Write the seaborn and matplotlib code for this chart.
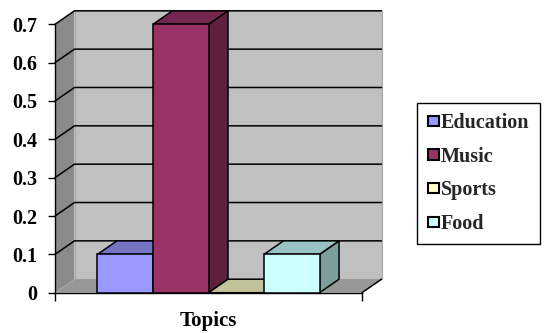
import matplotlib
matplotlib.use("Agg")
import numpy as np
import pandas as pd
import seaborn as sns
import matplotlib.pyplot as plt
from matplotlib.patches import Polygon, Patch
import matplotlib.colors as mcolors

# ---- data ----
category = "Topics"
topics = ["Education", "Music", "Sports", "Food"]
values = [0.1, 0.7, 0.0, 0.1]
colors = ["#9999FF", "#993366", "#FFFFCC", "#CCFFFF"]
y_ticks = [0, 0.1, 0.2, 0.3, 0.4, 0.5, 0.6, 0.7]
y_tick_labels = ["0", "0.1", "0.2", "0.3", "0.4", "0.5", "0.6", "0.7"]

sns.set_theme(style="white")
plt.rcParams["font.family"] = ["Liberation Serif", "DejaVu Serif"]
plt.rcParams["font.weight"] = "bold"

W, H = 544, 333
fig = plt.figure(figsize=(W / 100, H / 100), dpi=100)
fig.patch.set_facecolor("white")
ax = fig.add_axes([55 / W, (H - 292.7) / H, 307 / W, (292.7 - 24.3) / H])
ax.patch.set_visible(False)

df = pd.DataFrame({"cat": [category] * len(topics), "topic": topics, "value": values})
sns.barplot(data=df, x="cat", y="value", hue="topic", hue_order=topics,
            palette=colors, width=0.8, gap=0, saturation=1,
            edgecolor="black", linewidth=1.1, ax=ax, legend=False)

ax.set_xlim(-0.553, 0.553)
ax.set_ylim(0, 0.7)
x0, x1 = ax.get_xlim()
y0, y1 = ax.get_ylim()

# depth offset (pixels) converted into data units
px_x = ax.transData.transform((1, 0))[0] - ax.transData.transform((0, 0))[0]
px_y = ax.transData.transform((0, 1))[1] - ax.transData.transform((0, 0))[1]
DX = 19.5 / px_x
DY = 13.5 / px_y

def shade(c, f):
    r, g, b = mcolors.to_rgb(c)
    return (r * f, g * f, b * f)

# walls and floor
ax.add_patch(Polygon([(x0 + DX, y0 + DY), (x1 + DX, y0 + DY), (x1 + DX, y1 + DY), (x0 + DX, y1 + DY)],
                     closed=True, fc="#C0C0C0", ec="#A8A8A8", lw=0.8, zorder=0.5, clip_on=False))
ax.add_patch(Polygon([(x0, y0), (x0, y1), (x0 + DX, y1 + DY), (x0 + DX, y0 + DY)],
                     closed=True, fc="#8A8A8A", ec="none", zorder=0.6, clip_on=False))
ax.add_patch(Polygon([(x0, y0), (x1, y0), (x1 + DX, y0 + DY), (x0 + DX, y0 + DY)],
                     closed=True, fc="#979797", ec="none", zorder=0.7, clip_on=False))
for v in y_ticks[1:]:
    ax.plot([x0, x0 + DX, x1 + DX], [v, v + DY, v + DY], color="black", lw=1.1,
            zorder=0.9, clip_on=False, solid_joinstyle="miter")
ax.plot([x1, x1 + DX], [y0, y0 + DY], color="black", lw=1.1, zorder=0.9, clip_on=False)

# 3D faces of bars
bars = [c[0] for c in ax.containers]
for i, (bar, col) in enumerate(zip(bars, colors)):
    x, w, h = bar.get_x(), bar.get_width(), bar.get_height()
    base = 3 + 3 * i
    ax.add_patch(Polygon([(x + w, 0), (x + w, h), (x + w + DX, h + DY), (x + w + DX, DY)],
                         closed=True, fc=shade(col, 0.62), ec="black", lw=1.1,
                         zorder=base, clip_on=False, joinstyle="miter"))
    ax.add_patch(Polygon([(x, h), (x + w, h), (x + w + DX, h + DY), (x + DX, h + DY)],
                         closed=True, fc=shade(col, 0.76), ec="black", lw=1.1,
                         zorder=base + 1, clip_on=False, joinstyle="miter"))
    bar.set_zorder(base + 2)
    bar.set_clip_on(False)

# axes styling
for s in ["top", "right"]:
    ax.spines[s].set_visible(False)
for s in ["left", "bottom"]:
    ax.spines[s].set_color("black")
    ax.spines[s].set_linewidth(1.0)
    ax.spines[s].set_zorder(1)

ax.set_yticks(y_ticks)
ax.set_yticklabels(y_tick_labels)
ax.tick_params(axis="y", left=True, direction="out", length=5, width=1, color="black",
               pad=8, labelsize=14.5, labelcolor="black")
ax.set_xticks([0])
ax.set_xticklabels([category])
ax.tick_params(axis="x", which="major", length=0, pad=13, labelsize=15, labelcolor="black")
ax.set_xticks([x0, x1], minor=True)
ax.tick_params(axis="x", which="minor", bottom=True, direction="out", length=6, width=1, color="black")
for lab in ax.get_xticklabels() + ax.get_yticklabels():
    lab.set_fontweight("bold")
ax.set_xlabel("")
ax.set_ylabel("")

handles = [Patch(facecolor=c, edgecolor="black", linewidth=1.5) for c in colors]
leg = fig.legend(handles, topics, loc="center", bbox_to_anchor=(478.5 / W, 1 - 173.5 / H),
                 frameon=True, fancybox=False, edgecolor="black", framealpha=1,
                 prop={"family": "Liberation Serif", "weight": "bold", "size": 14.5},
                 handlelength=0.55, handleheight=0.4, handletextpad=0.12,
                 labelspacing=0.68, borderpad=0.5)
leg.get_frame().set_linewidth(1.0)

fig.savefig("out.png", dpi=100)
